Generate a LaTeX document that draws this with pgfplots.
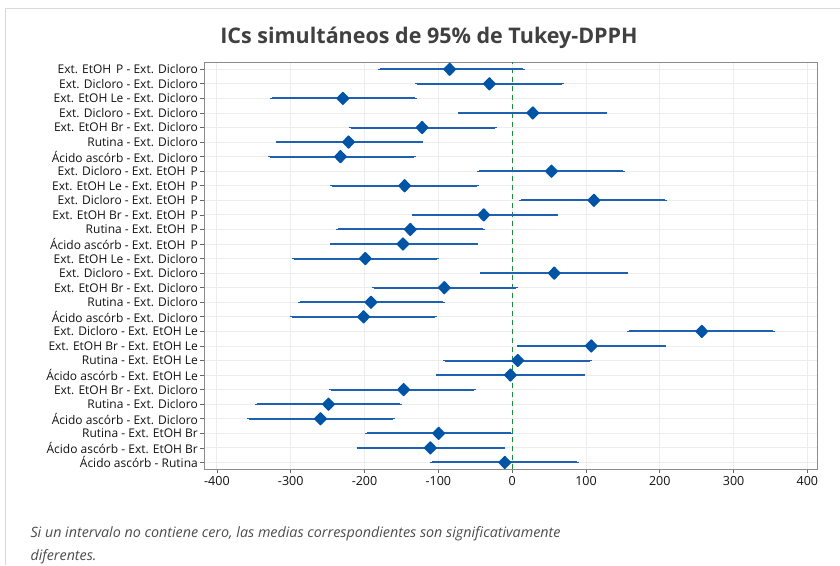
\documentclass[border=0pt]{standalone}
\usepackage{pgfplots}
\pgfplotsset{compat=1.18}
\usepackage{pgfplotstable}
\usepackage{fontspec}
\setmainfont{Open Sans}
\definecolor{ptblue}{HTML}{0054A6}
\definecolor{lnblue}{HTML}{1F60B0}
\definecolor{zgreen}{HTML}{1E8C3A}
\definecolor{txt}{HTML}{111111}
\pgfplotstableread{
y c lo hi
28 -84.7 -179.6 14
27 -30.8 -128.5 67.8
26 -229.3 -324.8 -131.6
25 28 -70.6 125.2
24 -122 -218 -23.6
23 -221.7 -317.5 -123.5
22 -232.6 -327.5 -133.5
21 53.3 -44.8 149.7
20 -145.7 -243.8 -48
19 110.8 12.6 207
18 -38.5 -133.5 60
17 -138 -235.3 -39.9
16 -147.9 -243.8 -49.4
15 -199 -295.8 -101.8
14 57 -40.7 153.7
13 -91.9 -187.8 5.8
12 -191.3 -287.3 -93.6
11 -201.3 -297.7 -104
10 256.9 158.7 352.8
9 107.2 9 205.7
8 7.6 -90.5 105.8
7 -2.3 -100.4 95.4
6 -147 -246 -52
5 -248.8 -345.6 -151.6
4 -259.7 -356 -161.5
3 -99.6 -196.7 -1.4
2 -110.9 -207.6 -11.8
1 -10 -108.5 87.2
}\ictable
\newcommand{\PP}{EtOH\hspace{5pt}P}
\begin{document}
\begin{tikzpicture}[x=1pt,y=1pt]
\useasboundingbox (0,0) rectangle (840,565);
\draw[black!15, line width=1pt] (5,0) -- (5,556) -- (840,556);
\node[text=black!75, font=\fontsize{21.5}{26}\selectfont\bfseries] at (429,527) {ICs simultáneos de 95\% de Tukey-DPPH};
\begin{axis}[
  at={(204pt,96pt)}, anchor=south west, scale only axis,
  width=613pt, height=407pt,
  xmin=-417.5, xmax=413, ymin=0.55, ymax=28.5,
  xtick={-400,-300,...,400},
  ytick={1,...,28},
  yticklabels={
    Ácido ascórb - Rutina,
    Ácido ascórb - Ext. EtOH Br,
    Rutina - Ext. EtOH Br,
    Ácido ascórb - Ext. Dicloro,
    Rutina - Ext. Dicloro,
    Ext. EtOH Br - Ext. Dicloro,
    Ácido ascórb - Ext. EtOH Le,
    Rutina - Ext. EtOH Le,
    Ext. EtOH Br - Ext. EtOH Le,
    Ext. Dicloro - Ext. EtOH Le,
    Ácido ascórb - Ext. Dicloro,
    Rutina - Ext. Dicloro,
    Ext. EtOH Br - Ext. Dicloro,
    Ext. Dicloro - Ext. Dicloro,
    Ext. EtOH Le - Ext. Dicloro,
    Ácido ascórb - Ext. \PP,
    Rutina - Ext. \PP,
    Ext. EtOH Br - Ext. \PP,
    Ext. Dicloro - Ext. \PP,
    Ext. EtOH Le - Ext. \PP,
    Ext. Dicloro - Ext. \PP,
    Ácido ascórb - Ext. Dicloro,
    Rutina - Ext. Dicloro,
    Ext. EtOH Br - Ext. Dicloro,
    Ext. Dicloro - Ext. Dicloro,
    Ext. EtOH Le - Ext. Dicloro,
    Ext. Dicloro - Ext. Dicloro,
    Ext. \PP\ - Ext. Dicloro},
  /pgf/number format/assume math mode=true,
  xticklabel style={font=\fontsize{12.5}{14}\selectfont, text=txt},
  yticklabel style={font=\fontsize{12}{13}\selectfont, text=txt, inner xsep=2pt},
  grid=major, grid style={black!7, line width=0.9pt},
  axis line style={black!45, line width=0.9pt},
  tick style={black!60, line width=0.7pt},
  tick align=outside, tick pos=left, major tick length=4pt,
  clip=false,
]
\addplot[zgreen, line width=1.3pt, dash pattern=on 5pt off 4pt] coordinates {(0,0.55) (0,28.5)};
\addplot[only marks, mark=diamond*, mark size=5.8pt, mark options={xscale=1.3, fill=ptblue, draw=ptblue, line width=1.6pt, line join=round},
  error bars/.cd, x dir=both, x explicit,
  error bar style={lnblue, line width=2pt},
  error mark options={lnblue, mark size=2pt, line width=1.3pt}]
  table[x=c, y=y, x error plus expr=\thisrow{hi}-\thisrow{c}, x error minus expr=\thisrow{c}-\thisrow{lo}] {\ictable};
\end{axis}
\node[anchor=base west, font=\fontsize{14.3}{16}\selectfont\itshape, text=black!70] at (27,28) {Si un intervalo no contiene cero, las medias correspondientes son significativamente};
\node[anchor=base west, font=\fontsize{14.3}{16}\selectfont\itshape, text=black!70] at (27,5) {diferentes.};
\end{tikzpicture}
\end{document}
